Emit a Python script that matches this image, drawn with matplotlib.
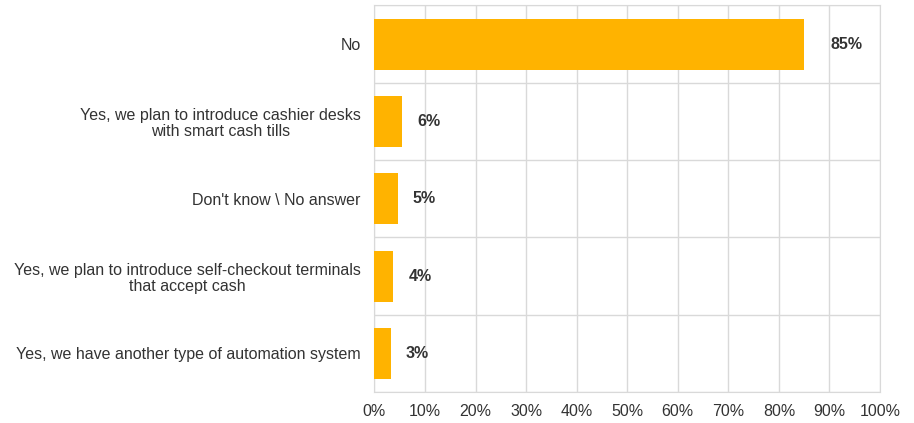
import numpy as np
import matplotlib.pyplot as plt
from matplotlib.ticker import FixedLocator, PercentFormatter

categories = ["No",
              "Yes, we plan to introduce cashier desks\nwith smart cash tills",
              "Don't know \\ No answer",
              "Yes, we plan to introduce self-checkout terminals\nthat accept cash",
              "Yes, we have another type of automation system"]
values = [85, 5.4, 4.6, 3.7, 3.2]
labels = ["85%", "6%", "5%", "4%", "3%"]

plt.rcParams['font.family'] = ['Liberation Sans', 'DejaVu Sans']
text_col = "#333333"
grid_col = "#d9d9d9"

fig = plt.figure(figsize=(9.14, 4.23), dpi=100)
ax = fig.add_axes([0.4097, 0.0733, 0.5531, 0.9137])

y = np.arange(len(categories))
ax.barh(y, values, height=0.66, color="#FFB300", zorder=3)

for yi, v, lab in zip(y, values, labels):
    off = 19 if v > 50 else 11
    ax.annotate(lab, (v, yi), xytext=(off, 0), textcoords="offset points",
                va="center", ha="left", fontsize=11.5, fontweight="bold",
                color=text_col)

ax.set_xlim(0, 100)
ax.set_ylim(len(categories) - 0.5, -0.5)
ax.set_xticks(np.arange(0, 101, 10))
ax.xaxis.set_major_formatter(PercentFormatter(decimals=0))
ax.set_yticks(y)
ax.set_yticklabels(categories, multialignment="center", linespacing=1.1)
ax.yaxis.set_minor_locator(FixedLocator(np.arange(-0.5, len(categories), 1)))

ax.grid(axis="x", which="major", color=grid_col, linewidth=1, zorder=0)
ax.grid(axis="y", which="minor", color=grid_col, linewidth=1, zorder=0)
ax.tick_params(axis="both", which="both", length=0, labelsize=11.5,
               labelcolor=text_col)
ax.tick_params(axis="y", pad=10)
ax.tick_params(axis="x", pad=9)
for s in ax.spines.values():
    s.set_color(grid_col)

fig.savefig("out.png", dpi=100)
